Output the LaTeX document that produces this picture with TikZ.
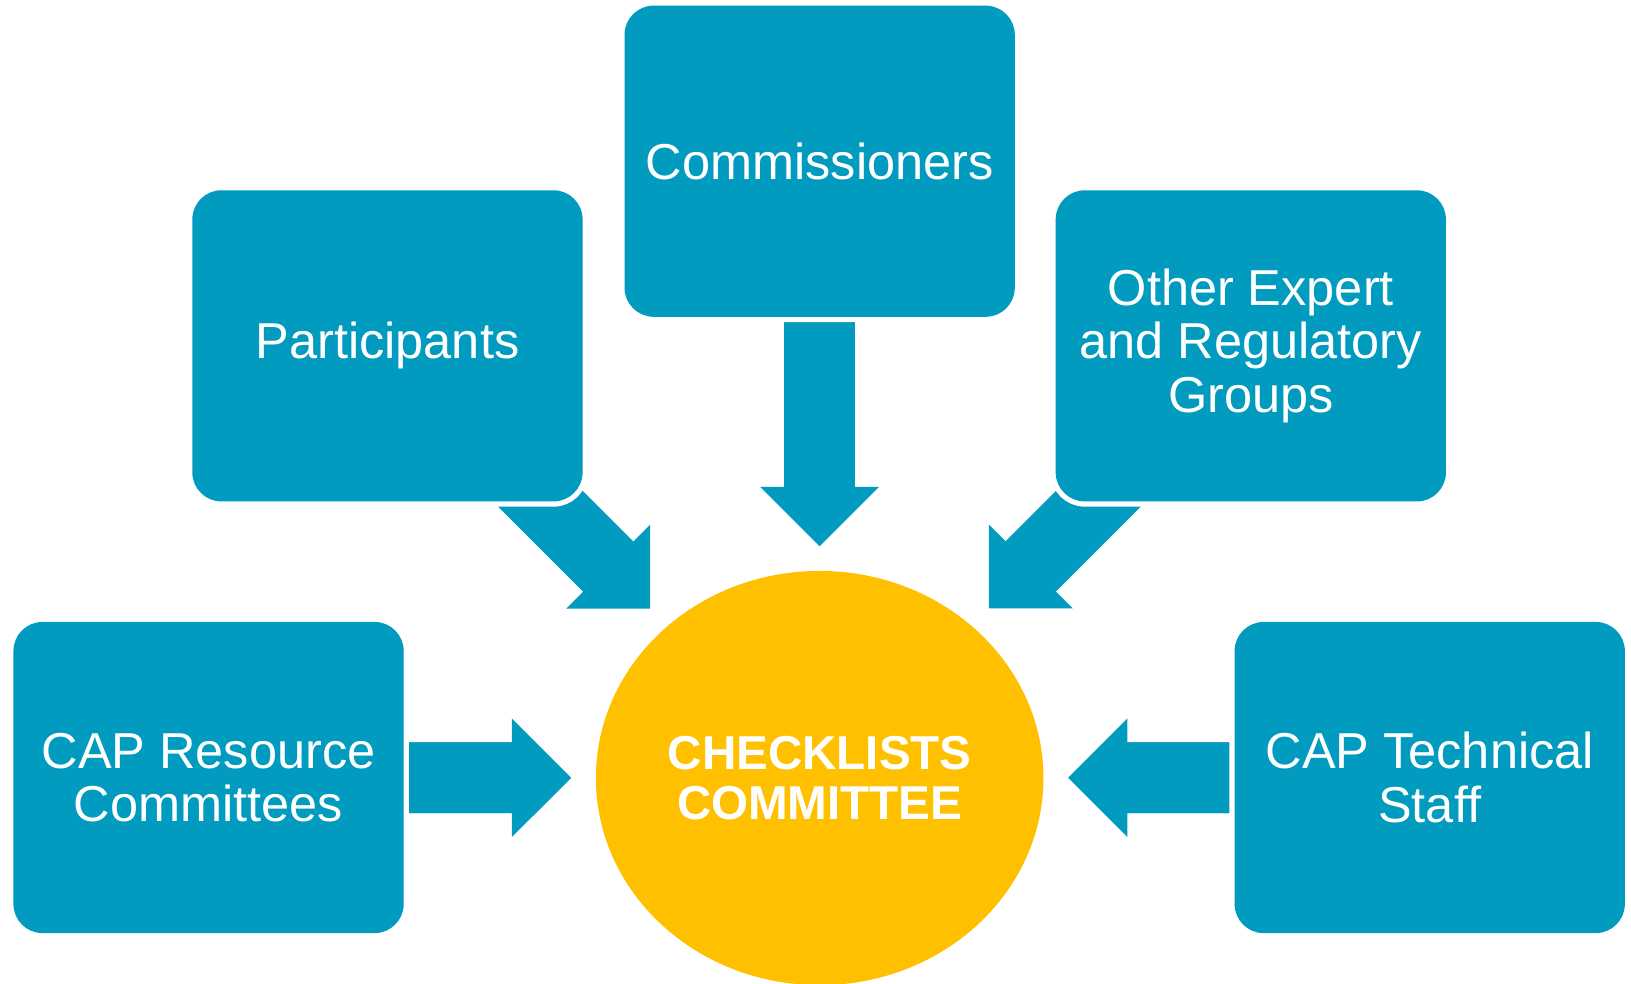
\documentclass[tikz,border=0pt]{standalone}
\usepackage{fontspec}
\setmainfont{Liberation Sans}
\usetikzlibrary{shapes.geometric,arrows.meta,backgrounds}
\definecolor{teal1}{RGB}{0,155,191}
\definecolor{gold1}{RGB}{255,192,0}
\begin{document}
\begin{tikzpicture}[x=0.01cm,y=-0.01cm,
  box/.style={rectangle, fill=teal1, rounded corners=0.28cm,
    minimum width=3.75cm, minimum height=2.99cm, inner sep=0pt,
    text=white, align=center, font=\fontsize{13.8}{14.6}\selectfont,
    preaction={draw=white, line width=0.1cm}},
  hub/.style={ellipse, fill=gold1, minimum width=4.3cm, minimum height=3.98cm,
    inner sep=0pt, text=white, align=center,
    font=\bfseries\fontsize{13}{13.7}\selectfont},
  flow/.style={draw=teal1, line width=0.68cm, shorten >=0.23cm,
    -{Triangle[length=0.57cm,width=1.14cm,line width=0pt]}},
  flowshaft/.style={draw=teal1, line width=0.68cm, shorten >=0.75cm}]
\useasboundingbox (0,0) rectangle (1568,946);

\node[box] (comm) at (788,155) {Commissioners};
\node[box] (part) at (372.5,332.5) {Participants};
\node[box] (other) at (1202.5,332.5) {Other Expert\\and Regulatory\\Groups};
\node[box] (res) at (200.5,747.5) {CAP Resource\\Committees};
\node[box] (tech) at (1374.5,747.5) {CAP Technical\\Staff};
\node[hub] (cc) at (788,748) {CHECKLISTS\\COMMITTEE};

\begin{pgfonlayer}{background}
\foreach \src in {comm,part,other,res,tech}{
  \draw[flow] (\src.center) -- (cc);
  \draw[flowshaft] (\src.center) -- (cc);
}
\end{pgfonlayer}
\end{tikzpicture}
\end{document}
